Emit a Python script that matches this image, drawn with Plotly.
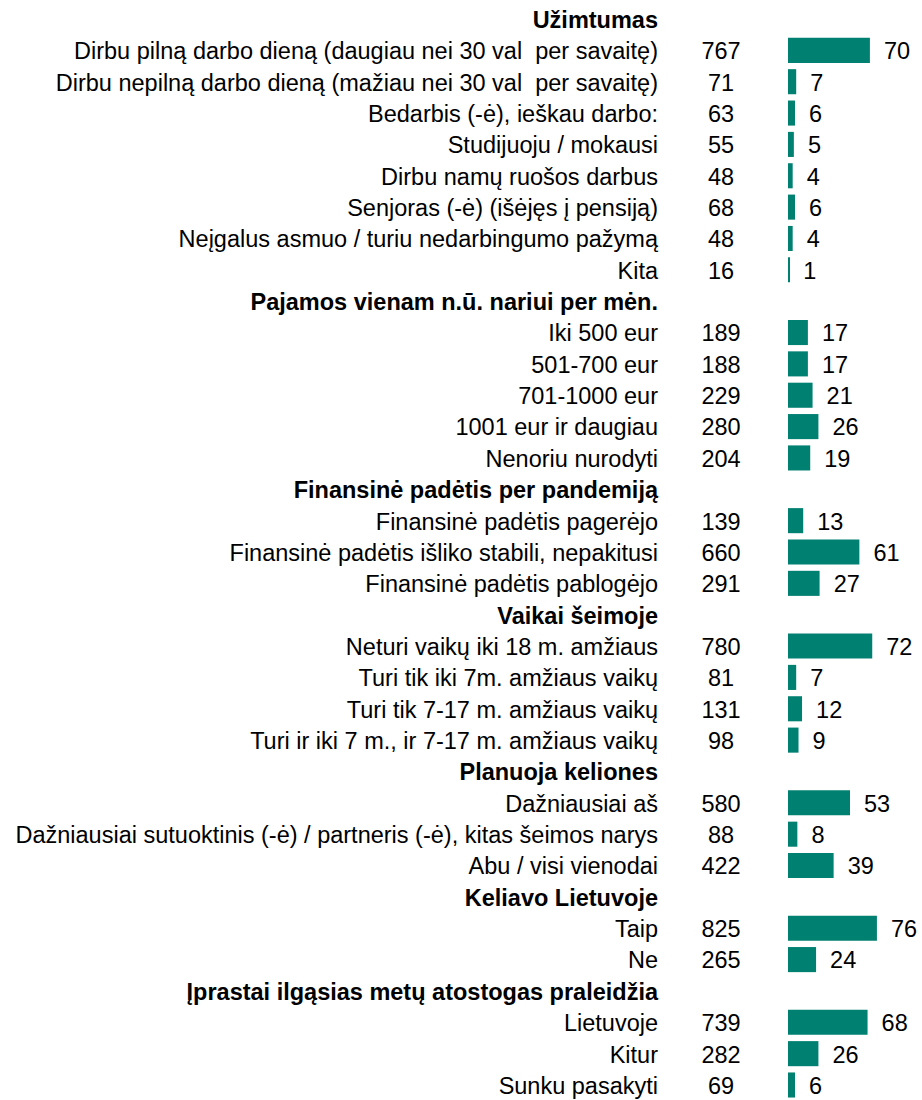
import plotly.graph_objects as go

group_titles = [
    "Užimtumas",
    "Pajamos vienam n.ū. nariui per mėn.",
    "Finansinė padėtis per pandemiją",
    "Vaikai šeimoje",
    "Planuoja keliones",
    "Keliavo Lietuvoje",
    "Įprastai ilgąsias metų atostogas praleidžia",
]

group_labels = [
    ["Dirbu pilną darbo dieną (daugiau nei 30 val\u00a0 per savaitę)",
     "Dirbu nepilną darbo dieną (mažiau nei 30 val\u00a0 per savaitę)",
     "Bedarbis (-ė), ieškau darbo:",
     "Studijuoju / mokausi",
     "Dirbu namų ruošos darbus",
     "Senjoras (-ė) (išėjęs į pensiją)",
     "Neįgalus asmuo / turiu nedarbingumo pažymą",
     "Kita"],
    ["Iki 500 eur", "501-700 eur", "701-1000 eur", "1001 eur ir daugiau", "Nenoriu nurodyti"],
    ["Finansinė padėtis pagerėjo",
     "Finansinė padėtis išliko stabili, nepakitusi",
     "Finansinė padėtis pablogėjo"],
    ["Neturi vaikų iki 18 m. amžiaus",
     "Turi tik iki 7m. amžiaus vaikų",
     "Turi tik 7-17 m. amžiaus vaikų",
     "Turi ir iki 7 m., ir 7-17 m. amžiaus vaikų"],
    ["Dažniausiai aš",
     "Dažniausiai sutuoktinis (-ė) / partneris (-ė), kitas šeimos narys",
     "Abu / visi vienodai"],
    ["Taip", "Ne"],
    ["Lietuvoje", "Kitur", "Sunku pasakyti"],
]

group_counts = [
    [767, 71, 63, 55, 48, 68, 48, 16],
    [189, 188, 229, 280, 204],
    [139, 660, 291],
    [780, 81, 131, 98],
    [580, 88, 422],
    [825, 265],
    [739, 282, 69],
]

group_pcts = [
    [70, 7, 6, 5, 4, 6, 4, 1],
    [17, 17, 21, 26, 19],
    [13, 61, 27],
    [72, 7, 12, 9],
    [53, 8, 39],
    [76, 24],
    [68, 26, 6],
]

# Build row lists
head_y, head_text = [], []
row_y, row_label, row_count, row_pct = [], [], [], []
r = 0
for t, labs, cnts, pcts in zip(group_titles, group_labels, group_counts, group_pcts):
    head_y.append(r)
    head_text.append("<b>" + t + "</b>")
    r += 1
    for l, c, p in zip(labs, cnts, pcts):
        row_y.append(r)
        row_label.append(l)
        row_count.append(c)
        row_pct.append(p)
        r += 1
n_rows = r

W = 922
H = 1100
PX = 1.17  # pixels per percentage unit
x0_px = 788
x_min = -x0_px / PX
x_max = (W - x0_px) / PX
label_x = (658 - x0_px) / PX
count_x = (721 - x0_px) / PX

ROW_PX = (1085 - 19) / (n_rows - 1)
y_top = -19 / ROW_PX
y_bot = y_top + H / ROW_PX
TXT_DY = 3 / ROW_PX  # text sits slightly below bar centre

FONT = "Liberation Sans, Arial, sans-serif"
fs = 23.5

fig = go.Figure()
fig.add_trace(go.Bar(
    x=row_pct, y=row_y, orientation="h", base=0,
    marker=dict(color="#008070", line=dict(width=0)),
    width=0.8, hoverinfo="skip",
))
txt = dict(family=FONT, size=fs, color="#000000")
fig.add_trace(go.Scatter(
    x=[p + 12 for p in row_pct], y=[v + TXT_DY for v in row_y], mode="text",
    text=[str(p) for p in row_pct], textposition="middle right",
    textfont=txt, hoverinfo="skip", cliponaxis=False,
))
fig.add_trace(go.Scatter(
    x=[count_x] * len(row_y), y=[v + TXT_DY for v in row_y], mode="text",
    text=[str(c) for c in row_count], textposition="middle center",
    textfont=txt, hoverinfo="skip", cliponaxis=False,
))
fig.add_trace(go.Scatter(
    x=[label_x] * len(row_y), y=[v + TXT_DY for v in row_y], mode="text",
    text=row_label, textposition="middle left",
    textfont=txt, hoverinfo="skip", cliponaxis=False,
))
fig.add_trace(go.Scatter(
    x=[label_x] * len(head_y), y=[v + TXT_DY for v in head_y], mode="text",
    text=head_text, textposition="middle left",
    textfont=txt, hoverinfo="skip", cliponaxis=False,
))

fig.update_layout(
    width=W, height=H,
    margin=dict(l=0, r=0, t=0, b=0),
    paper_bgcolor="white", plot_bgcolor="white",
    showlegend=False,
    xaxis=dict(range=[x_min, x_max], visible=False, fixedrange=True),
    yaxis=dict(range=[y_bot, y_top], visible=False, fixedrange=True),
)

fig.write_html(
    "out.html",
    config={"displayModeBar": False},
    post_script="document.body.style.margin='0';document.body.style.overflow='hidden';",
)
